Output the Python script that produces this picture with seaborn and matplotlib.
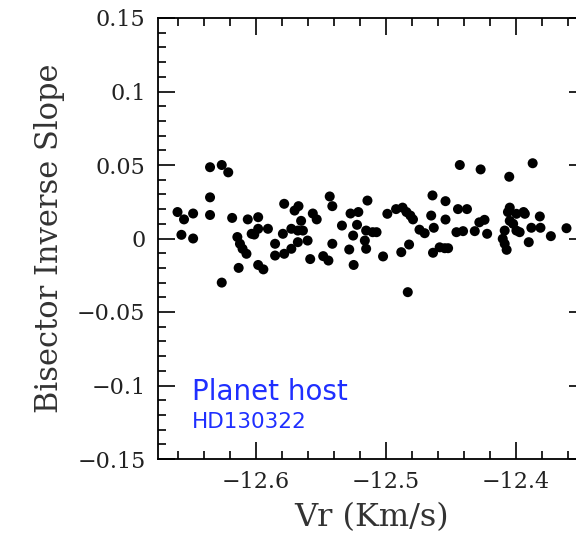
# Bisector inverse slope vs radial velocity for HD130322
import numpy as np
import pandas as pd
import matplotlib.pyplot as plt
import seaborn as sns
from matplotlib.ticker import MultipleLocator

# --------------- DATOS ---------------
vr = [-12.635, -12.626, -12.621, -12.635, -12.660, -12.655, -12.648, -12.635,
      -12.657, -12.648, -12.618, -12.626, -12.613, -12.598, -12.594, -12.606,
      -12.598, -12.578, -12.570, -12.614, -12.612, -12.610, -12.607, -12.603,
      -12.598, -12.5905, -12.601, -12.585, -12.579, -12.5725, -12.585, -12.578,
      -12.5725, -12.567, -12.565, -12.5675, -12.5636, -12.5675, -12.560, -12.558,
      -12.556, -12.553, -12.548, -12.544, -12.543, -12.541, -12.541, -12.5336,
      -12.528, -12.527, -12.521, -12.525, -12.522, -12.5246, -12.516, -12.515,
      -12.514, -12.515, -12.510, -12.507, -12.502, -12.4987, -12.492, -12.487,
      -12.484, -12.481, -12.479, -12.474, -12.470, -12.488, -12.482, -12.483,
      -12.464, -12.465, -12.463, -12.4636, -12.4585, -12.4546, -12.452, -12.454,
      -12.454, -12.443, -12.4444, -12.4375, -12.4456, -12.4405, -12.4315, -12.427,
      -12.428, -12.424, -12.422, -12.4085, -12.410, -12.4085, -12.407, -12.405,
      -12.4046, -12.406, -12.4046, -12.402, -12.3995, -12.397, -12.3995, -12.394,
      -12.393, -12.390, -12.388, -12.387, -12.3815, -12.381, -12.373, -12.361]

bis = [0.0485, 0.050, 0.045, 0.028, 0.018, 0.013, 0.017, 0.016,
       0.0025, 0.000, 0.014, -0.030, -0.020, -0.018, -0.021, 0.013,
       0.0145, 0.0236, 0.019, 0.001, -0.0036, -0.007, -0.0104, 0.0032,
       0.0066, 0.0066, 0.0027, -0.0036, 0.0032, 0.0066, -0.0116, -0.0104,
       -0.007, 0.022, 0.012, 0.0054, 0.0054, -0.0025, -0.0014, -0.014,
       0.017, 0.013, -0.012, -0.015, 0.0286, 0.022, -0.0036, 0.0088,
       -0.0075, 0.017, 0.018, 0.002, 0.0093, -0.018, -0.0014, -0.007,
       0.0258, 0.0054, 0.0043, 0.0043, -0.0122, 0.0168, 0.020, 0.021,
       0.018, 0.0156, 0.013, 0.006, 0.0036, -0.0093, -0.0041, -0.0365,
       0.0293, 0.0156, 0.0073, -0.0097, -0.006, -0.0066, -0.0066, 0.0254,
       0.0129, 0.050, 0.020, 0.020, 0.0043, 0.005, 0.005, 0.047,
       0.011, 0.0127, 0.0032, 0.0054, -0.0002, -0.0036, -0.0077, 0.042,
       0.021, 0.018, 0.012, 0.010, 0.0054, 0.0043, 0.0168, 0.018,
       0.0168, -0.0025, 0.0073, 0.0512, 0.015, 0.0073, 0.0016, 0.007]

df = pd.DataFrame({'vr': vr, 'bis': bis})

x_ticks = [-12.6, -12.5, -12.4]
y_ticks = [-0.15, -0.1, -0.05, 0, 0.05, 0.1, 0.15]
y_labels = ['\u22120.15', '\u22120.1', '\u22120.05', '0', '0.05', '0.1', '0.15']
x_labels = ['\u221212.6', '\u221212.5', '\u221212.4']

# --------------- FIGURA ---------------
sns.set_style('ticks')
plt.rcParams['font.family'] = ['DejaVu Serif']

fig = plt.figure(figsize=(5.76, 5.35), dpi=100)
# el eje derecho queda fuera de la imagen, como en el original
ax = fig.add_axes([158 / 576, 76 / 535, 428 / 576, 441 / 535])

sns.scatterplot(data=df, x='vr', y='bis', ax=ax, color='black',
                s=52, edgecolor='none', legend=False)

ax.set_xlim(-12.675, -12.346)
ax.set_ylim(-0.15, 0.15)

ax.set_xticks(x_ticks)
ax.set_xticklabels(x_labels)
ax.set_yticks(y_ticks)
ax.set_yticklabels(y_labels)
ax.xaxis.set_minor_locator(MultipleLocator(0.02))
ax.yaxis.set_minor_locator(MultipleLocator(0.01))

ax.tick_params(which='both', direction='in', top=True, right=True,
               color='black', width=1.2, labelsize=16, labelcolor='#222222')
ax.tick_params(which='major', length=12, pad=9)
ax.tick_params(which='minor', length=6)
for sp in ax.spines.values():
    sp.set_linewidth(1.3)
    sp.set_color('black')

ax.set_xlabel('Vr (Km/s)', fontsize=23, color='#333333', labelpad=6)
ax.set_ylabel('Bisector Inverse Slope', fontsize=22, color='#333333',
              labelpad=9)

# texto azul dentro del grafico
ax.text(-12.649, -0.110, 'Planet host', color='#1f2fff', fontsize=20,
        family='DejaVu Sans')
ax.text(-12.649, -0.1286, 'HD130322', color='#1f2fff', fontsize=15.5,
        family='DejaVu Sans')

fig.savefig('out.png', dpi=100)
